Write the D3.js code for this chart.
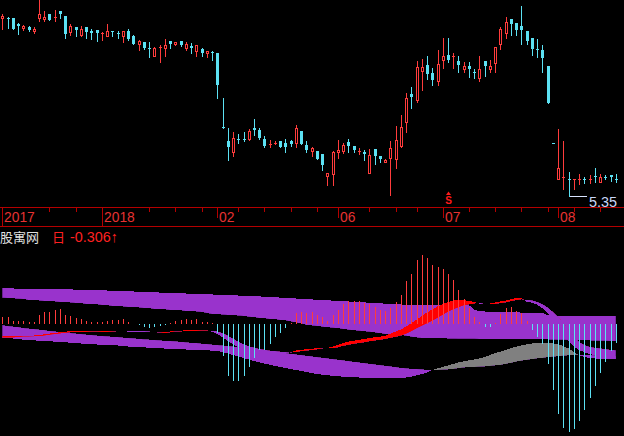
<!DOCTYPE html>
<html><head><meta charset="utf-8">
<script src="https://cdn.jsdelivr.net/npm/d3@7"></script>
<style>html,body{margin:0;padding:0;background:#000;overflow:hidden}svg{display:block}</style>
</head><body><svg id="c" width="624" height="436"></svg>
<script>
// ---------- price data (one entry per trading bar) ----------
const openP = [8.32,8.32,8.31,8.21,8.15,8.17,8.10,8.32,8.30,8.39,
8.31,8.43,8.35,8.09,8.16,8.03,8.16,8.10,8.12,8.05,
8.02,8.10,8.07,8.02,8.10,8.01,7.88,7.92,7.82,7.69,
7.81,7.82,7.93,7.88,7.93,7.82,7.85,7.76,7.80,7.73,
7.75,7.74,6.50,6.26,6.09,6.30,6.30,6.30,6.49,6.45,
6.30,6.20,6.22,6.27,6.23,6.27,6.24,6.43,6.20,6.10,
6.10,6.05,5.69,5.71,6.09,6.10,6.25,6.18,6.08,6.09,
5.74,6.13,6.02,5.92,5.98,5.97,6.18,6.59,7.05,6.95,
7.44,7.53,7.40,7.26,7.61,7.70,7.67,7.60,7.47,7.52,
7.42,7.32,7.60,7.46,7.56,7.88,8.07,8.30,8.24,8.18,
8.10,7.98,7.80,7.78,7.52,6.23,5.63,5.65,5.63,5.62,
5.62,5.64,5.61,5.69,5.59,5.67,5.70,5.64];
const highP = [8.38,8.33,8.31,8.23,8.20,8.18,8.16,8.65,8.43,8.39,
8.45,8.43,8.35,8.21,8.16,8.18,8.16,8.13,8.12,8.09,
8.22,8.10,8.10,8.10,8.13,8.03,7.95,7.92,7.91,7.84,
7.87,7.97,7.93,7.92,7.93,7.91,7.90,7.87,7.82,7.77,
7.77,7.74,6.99,6.49,6.41,6.38,6.41,6.46,6.63,6.48,
6.35,6.28,6.26,6.27,6.30,6.28,6.53,6.43,6.26,6.17,
6.10,6.05,5.73,6.10,6.28,6.24,6.30,6.18,6.15,6.12,
6.13,6.13,6.02,5.97,6.27,6.52,6.70,7.06,7.16,7.60,
7.64,7.68,7.48,7.78,7.98,7.98,7.74,7.68,7.58,7.58,
7.46,7.68,7.60,7.62,7.83,8.17,8.34,8.30,8.24,8.51,
8.10,7.98,7.97,7.87,7.52,6.23,6.47,6.26,5.75,5.64,
5.72,5.67,5.70,5.82,5.72,5.70,5.70,5.72];
const lowP = [8.13,8.15,8.13,8.05,8.12,8.10,8.07,8.26,8.26,8.28,
8.27,8.32,7.99,8.04,8.02,8.01,7.99,7.97,7.93,7.95,
8.01,8.02,7.99,7.91,7.95,7.88,7.78,7.80,7.66,7.69,
7.59,7.69,7.82,7.86,7.85,7.78,7.74,7.69,7.69,7.66,
7.62,6.99,6.49,5.95,6.02,6.24,6.27,6.28,6.37,6.30,
6.17,6.17,6.22,6.16,6.09,6.18,6.17,6.22,6.09,6.02,
5.97,5.78,5.53,5.53,5.98,6.07,6.09,6.08,6.05,5.95,
5.74,5.88,5.91,5.91,5.37,5.82,6.17,6.42,6.82,6.91,
7.11,7.30,7.20,7.20,7.48,7.59,7.49,7.41,7.41,7.34,
7.32,7.27,7.35,7.41,7.42,7.80,7.99,8.03,8.03,7.88,
7.88,7.70,7.67,7.42,6.90,6.23,5.63,5.47,5.35,5.47,
5.55,5.57,5.56,5.59,5.58,5.63,5.60,5.58];
const closeP = [8.35,8.30,8.13,8.19,8.18,8.12,8.14,8.39,8.34,8.28,
8.34,8.38,8.05,8.18,8.12,8.13,8.08,8.07,8.07,8.07,
8.10,8.08,8.05,8.10,7.96,7.89,7.94,7.82,7.80,7.82,
7.83,7.87,7.89,7.91,7.87,7.88,7.82,7.87,7.74,7.76,
7.73,7.20,6.49,6.17,6.32,6.28,6.28,6.43,6.45,6.31,
6.19,6.22,6.23,6.16,6.17,6.21,6.49,6.22,6.11,6.15,
5.97,5.87,5.73,6.09,6.12,6.20,6.18,6.11,6.10,6.05,
6.03,6.01,5.96,5.95,6.15,6.28,6.50,6.99,7.00,7.50,
7.50,7.38,7.28,7.55,7.68,7.62,7.68,7.53,7.52,7.47,
7.40,7.47,7.52,7.52,7.83,8.14,8.25,8.22,8.12,8.12,
7.94,7.80,7.78,7.65,6.90,6.23,5.81,5.67,5.62,5.63,
5.63,5.62,5.63,5.66,5.66,5.66,5.66,5.62];

// ---------- indicator data ----------
const histValues = [0.115,0.115,0.05,0.05,0.05,0.03,0.03,0.15,0.20,0.20,
0.23,0.25,0.15,0.13,0.10,0.08,0.05,0.03,0.03,0.03,
0.05,0.07,0.07,0.08,0.03,0.005,-0.01,-0.045,-0.06,-0.055,
-0.04,-0.01,0.015,0.05,0.065,0.08,0.065,0.08,0.03,0.03,
0.02,-0.15,-0.52,-0.85,-0.93,-0.93,-0.86,-0.71,-0.56,-0.42,
-0.42,-0.32,-0.22,-0.15,-0.07,0.02,0.18,0.20,0.18,0.20,
0.15,0.11,0.045,0.14,0.23,0.32,0.37,0.37,0.37,0.34,
0.32,0.28,0.23,0.22,0.27,0.36,0.48,0.71,0.82,1.05,
1.13,1.08,0.97,0.93,0.90,0.82,0.72,0.56,0.41,0.26,
0.12,0.04,-0.045,-0.045,0.02,0.16,0.26,0.28,0.22,0.18,
0.05,-0.10,-0.21,-0.33,-0.66,-1.09,-1.48,-1.70,-1.77,-1.72,
-1.59,-1.41,-1.21,-1.01,-0.80,-0.62,-0.44,-0.306];
const bandAUpper = [0.585,0.584,0.582,0.581,0.579,0.578,0.577,0.575,0.574,0.572,
0.571,0.569,0.568,0.566,0.565,0.563,0.561,0.559,0.556,0.553,
0.549,0.546,0.543,0.539,0.536,0.533,0.530,0.526,0.523,0.520,
0.516,0.513,0.510,0.507,0.503,0.500,0.497,0.493,0.490,0.487,
0.484,0.480,0.477,0.474,0.470,0.467,0.462,0.459,0.456,0.452,
0.447,0.443,0.438,0.433,0.428,0.423,0.418,0.413,0.408,0.403,
0.398,0.393,0.388,0.384,0.379,0.374,0.369,0.364,0.359,0.354,
0.349,0.344,0.339,0.334,0.329,0.324,0.320,0.316,0.313,0.311,
0.311,0.311,0.311,0.311,0.311,0.311,0.311,0.311,0.311,0.311,
0.230,0.213,0.205,0.200,0.200,0.197,0.195,0.193,0.190,0.188,
0.186,0.184,0.182,0.180,0.148,0.135,0.132,0.131,0.131,0.131,
0.131,0.131,0.131,0.131,0.131,0.131,0.131,0.131];
const bandALower = [0.431,0.428,0.420,0.415,0.410,0.393,0.390,0.385,0.377,0.375,
0.369,0.361,0.359,0.352,0.344,0.342,0.328,0.326,0.322,0.311,
0.309,0.295,0.293,0.287,0.279,0.277,0.272,0.262,0.260,0.246,
0.244,0.240,0.230,0.228,0.223,0.213,0.211,0.205,0.197,0.180,
0.164,0.159,0.154,0.148,0.146,0.138,0.131,0.120,0.110,0.098,
0.093,0.082,0.077,0.066,0.061,0.041,0.025,0.008,-0.016,-0.025,
-0.033,-0.044,-0.054,-0.062,-0.069,-0.082,-0.093,-0.103,-0.110,-0.120,
-0.128,-0.139,-0.151,-0.164,-0.170,-0.177,-0.184,-0.193,-0.208,-0.221,
-0.230,-0.233,-0.235,-0.236,-0.237,-0.238,-0.239,-0.240,-0.241,-0.242,
-0.243,-0.246,-0.249,-0.249,-0.249,-0.249,-0.249,-0.250,-0.250,-0.250,
-0.251,-0.251,-0.252,-0.252,-0.254,-0.256,-0.258,-0.260,-0.262,-0.264,
-0.266,-0.268,-0.270,-0.272,-0.274,-0.276,-0.278,-0.279];
const bandBSlow = [-0.016,-0.033,-0.041,-0.049,-0.066,-0.074,-0.082,-0.090,-0.098,-0.115,
-0.120,-0.131,-0.139,-0.148,-0.156,-0.164,-0.172,-0.180,-0.189,-0.197,
-0.202,-0.208,-0.213,-0.221,-0.230,-0.234,-0.243,-0.251,-0.254,-0.262,
-0.267,-0.274,-0.279,-0.284,-0.290,-0.298,-0.306,-0.311,-0.320,-0.328,
-0.336,-0.344,-0.352,-0.361,-0.369,-0.377,-0.385,-0.393,-0.405,-0.418,
-0.431,-0.443,-0.456,-0.467,-0.475,-0.487,-0.497,-0.508,-0.520,-0.530,
-0.541,-0.552,-0.562,-0.574,-0.585,-0.595,-0.607,-0.618,-0.628,-0.639,
-0.651,-0.661,-0.672,-0.684,-0.693,-0.705,-0.716,-0.726,-0.733,-0.738,
-0.743,-0.749,-0.754,-0.754,-0.751,-0.746,-0.738,-0.726,-0.715,-0.708,
-0.705,-0.702,-0.697,-0.689,-0.680,-0.672,-0.656,-0.639,-0.618,-0.603,
-0.590,-0.577,-0.566,-0.557,-0.546,-0.538,-0.528,-0.521,-0.515,-0.508,
-0.505,-0.505,-0.508,-0.513,-0.518,-0.525,-0.530,-0.533];
const bandBFast = [-0.225,-0.230,-0.238,-0.246,-0.257,-0.262,-0.267,-0.274,-0.279,-0.284,
-0.289,-0.295,-0.300,-0.307,-0.311,-0.320,-0.328,-0.333,-0.336,-0.341,
-0.344,-0.349,-0.352,-0.361,-0.369,-0.372,-0.377,-0.382,-0.389,-0.393,
-0.398,-0.403,-0.407,-0.410,-0.415,-0.418,-0.421,-0.423,-0.426,-0.431,
-0.438,-0.443,-0.459,-0.484,-0.508,-0.533,-0.557,-0.582,-0.607,-0.628,
-0.648,-0.667,-0.689,-0.705,-0.721,-0.738,-0.754,-0.770,-0.787,-0.803,
-0.820,-0.831,-0.841,-0.849,-0.857,-0.864,-0.869,-0.874,-0.877,-0.882,
-0.885,-0.889,-0.890,-0.890,-0.890,-0.889,-0.885,-0.877,-0.864,-0.844,
-0.820,-0.795,-0.754,-0.726,-0.705,-0.680,-0.656,-0.631,-0.611,-0.595,
-0.582,-0.562,-0.541,-0.508,-0.475,-0.454,-0.426,-0.398,-0.372,-0.352,
-0.333,-0.320,-0.311,-0.307,-0.307,-0.316,-0.336,-0.361,-0.402,-0.459,
-0.513,-0.541,-0.557,-0.566,-0.574,-0.574,-0.574,-0.574];
const ribbonFast = [-0.200,-0.200,-0.200,-0.200,-0.193,-0.192,-0.189,-0.180,-0.169,-0.157,
-0.148,-0.136,-0.126,-0.118,-0.115,-0.115,-0.115,-0.121,-0.123,-0.115,
-0.115,-0.115,-0.118,-0.118,-0.125,-0.123,-0.128,-0.131,-0.134,-0.136,
-0.136,-0.131,-0.123,-0.115,-0.111,-0.103,-0.102,-0.098,-0.098,-0.098,
-0.128,-0.164,-0.221,-0.279,-0.336,-0.377,-0.410,-0.434,-0.448,-0.459,
-0.467,-0.472,-0.475,-0.475,-0.475,-0.462,-0.434,-0.423,-0.415,-0.405,
-0.397,-0.397,-0.393,-0.369,-0.344,-0.311,-0.290,-0.275,-0.259,-0.246,
-0.230,-0.218,-0.208,-0.192,-0.159,-0.123,-0.090,-0.041,0.016,0.074,
0.131,0.189,0.238,0.287,0.328,0.361,0.382,0.397,0.393,0.377,
0.361,0.331,0.331,0.336,0.352,0.369,0.385,0.405,0.426,0.431,
0.366,0.349,0.316,0.257,0.175,0.082,-0.016,-0.152,-0.274,-0.372,
-0.426,-0.464,-0.492,-0.513,-0.525,-0.541,-0.557,-0.574];
const ribbonSlow = [-0.226,-0.226,-0.226,-0.216,-0.210,-0.208,-0.205,-0.203,-0.192,-0.180,
-0.170,-0.159,-0.148,-0.139,-0.134,-0.133,-0.131,-0.125,-0.125,-0.131,
-0.131,-0.128,-0.121,-0.120,-0.111,-0.110,-0.111,-0.115,-0.118,-0.138,
-0.141,-0.152,-0.139,-0.123,-0.125,-0.118,-0.115,-0.113,-0.111,-0.110,
-0.107,-0.120,-0.148,-0.189,-0.238,-0.287,-0.328,-0.361,-0.385,-0.405,
-0.421,-0.434,-0.443,-0.451,-0.459,-0.469,-0.462,-0.448,-0.439,-0.430,
-0.420,-0.403,-0.398,-0.398,-0.385,-0.361,-0.344,-0.328,-0.315,-0.303,
-0.287,-0.274,-0.262,-0.251,-0.230,-0.213,-0.193,-0.164,-0.123,-0.074,
-0.033,0.008,0.049,0.098,0.148,0.197,0.238,0.270,0.303,0.320,
0.333,0.348,0.332,0.320,0.328,0.339,0.352,0.372,0.389,0.402,
0.398,0.389,0.366,0.328,0.274,0.202,0.120,0.021,-0.087,-0.197,
-0.290,-0.344,-0.372,-0.389,-0.398,-0.410,-0.421,-0.431];

// ---------- axis / labels ----------
const tickLabels = ["2017","2018","02","06","07","08"];
const tickIndex = [0,19,41,64,84,106];
const minorTickIndex = [9,14,28,33,38,45,50,55,60,70,75,79,89,94,99,104,109,114];
const signalIndex = [85];
const signalText = ["S"];
const titleName = "股寓网", titlePeriod = "日", titleValue = "-0.306↑";

// ---------- drawing ----------
const n = openP.length;
const svg = d3.select("#c");
svg.append("rect").attr("width",624).attr("height",436).attr("fill","#000");
const defs = svg.append("defs");
defs.append("clipPath").attr("id","topClip").append("rect").attr("x",0).attr("y",0).attr("width",624).attr("height",207);
defs.append("clipPath").attr("id","botClip").append("rect").attr("x",0).attr("y",227).attr("width",624).attr("height",209);

const x = d3.scaleLinear().domain([0, n-1]).range([2.3, 615.8]);
const yP = d3.scaleLinear().domain([5, 9]).range([217, -23]);
const yI = d3.scaleLinear().domain([0, 1]).range([324, 263]);
const px = i => Math.round(x(i));

const RED = "#ff3c3c", CYAN = "#5ce1f3", PURPLE = "#9933cc", GRAY = "#808080";

// candles
const topG = svg.append("g").attr("clip-path","url(#topClip)").attr("shape-rendering","crispEdges");
const isUp = i => closeP[i] > openP[i] || (closeP[i] === openP[i] && i > 0 && closeP[i] >= closeP[i-1]);
for (let i = 0; i < n; i++) {
  const X = px(i), cx = X + 0.5;
  const yH = Math.round(yP(highP[i])), yL = Math.round(yP(lowP[i]));
  const yT = Math.round(yP(Math.max(openP[i], closeP[i])));
  const yB = Math.round(yP(Math.min(openP[i], closeP[i])));
  const col = isUp(i) ? RED : CYAN;
  if (isUp(i) && yB - yT >= 2) {
    if (yT > yH) topG.append("line").attr("x1",cx).attr("x2",cx).attr("y1",yH).attr("y2",yT).attr("stroke",col);
    if (yL > yB) topG.append("line").attr("x1",cx).attr("x2",cx).attr("y1",yB+1).attr("y2",yL+1).attr("stroke",col);
    topG.append("rect").attr("x",X-0.5).attr("y",yT+0.5).attr("width",2).attr("height",yB-yT)
      .attr("fill","#000").attr("stroke",col);
  } else {
    topG.append("line").attr("x1",cx).attr("x2",cx).attr("y1",yH).attr("y2",yL+1).attr("stroke",col);
    topG.append("rect").attr("x",X-1).attr("y",yT).attr("width",3).attr("height",Math.max(1,yB-yT)).attr("fill",col);
  }
}
// lowest-price marker
const iMin = d3.minIndex(lowP);
const yMin = Math.round(yP(lowP[iMin])) + 0.5;
topG.append("line").attr("x1",px(iMin)+0.5).attr("x2",px(iMin)+18).attr("y1",yMin).attr("y2",yMin).attr("stroke","#d8e4ff");
svg.append("text").attr("x",px(iMin)+20).attr("y",yMin+10).text(lowP[iMin].toFixed(2))
  .attr("fill","#c8d8f8").attr("font-family","Liberation Sans, Arial, sans-serif").attr("font-size",15)
  .attr("textLength",28).attr("lengthAdjust","spacingAndGlyphs");
// signal marker
signalIndex.forEach((si,k) => {
  const cx = px(si)+0.5;
  svg.append("path").attr("d",`M${cx-2.5},195 L${cx},191.5 L${cx+2.5},195 Z`).attr("fill","#ff1a1a");
  svg.append("text").attr("x",cx).attr("y",203.5).attr("text-anchor","middle").text(signalText[k])
    .attr("fill","#ff1a1a").attr("font-family","Liberation Sans, Arial, sans-serif").attr("font-weight","bold").attr("font-size",10);
});

// date axis
const ax = svg.append("g").attr("shape-rendering","crispEdges");
const AXC = "#b40000";
ax.append("line").attr("x1",0).attr("x2",624).attr("y1",207.5).attr("y2",207.5).attr("stroke",AXC);
ax.append("line").attr("x1",0).attr("x2",624).attr("y1",226.5).attr("y2",226.5).attr("stroke",AXC);
minorTickIndex.forEach(i => ax.append("line").attr("x1",px(i)+0.5).attr("x2",px(i)+0.5).attr("y1",208).attr("y2",212).attr("stroke",AXC));
tickIndex.forEach((i,k) => {
  const full = tickLabels[k].length === 4;
  ax.append("line").attr("x1",px(i)+0.5).attr("x2",px(i)+0.5).attr("y1",208).attr("y2",full?226:218).attr("stroke",AXC);
  svg.append("text").attr("x",px(i)+2).attr("y",221.5).text(tickLabels[k])
    .attr("fill","#e63232").attr("font-family","Liberation Sans, Arial, sans-serif").attr("font-size",15)
    .attr("textLength",tickLabels[k].length*7.7).attr("lengthAdjust","spacingAndGlyphs");
});

// title of indicator panel
svg.append("text").attr("x",0).attr("y",242).text(titleName).attr("fill","#e0e0e0")
  .attr("font-family","Noto Sans CJK SC, sans-serif").attr("font-size",13);
svg.append("text").attr("x",52).attr("y",242).text(titlePeriod).attr("fill","#ff2020")
  .attr("font-family","Noto Sans CJK SC, sans-serif").attr("font-size",13);
svg.append("text").attr("x",70).attr("y",242).text(titleValue).attr("fill","#ff2020")
  .attr("font-family","Liberation Sans, Arial, sans-serif").attr("font-size",15)
  .attr("textLength",48).attr("lengthAdjust","spacingAndGlyphs");

// indicator panel
const bot = svg.append("g").attr("clip-path","url(#botClip)");
const idx = d3.range(n);
function diffBand(f, s, colPos, colNeg, id) {
  const g = bot.append("g").attr("shape-rendering","crispEdges");
  const area = d3.area().x(i => x(i)).y0(i => yI(f[i])).y1(i => yI(s[i]));
  const above = d3.area().x(i => x(i)).y0(227).y1(i => yI(s[i]));
  const below = d3.area().x(i => x(i)).y0(436).y1(i => yI(s[i]));
  defs.append("clipPath").attr("id",id+"a").append("path").attr("d",above(idx));
  defs.append("clipPath").attr("id",id+"b").append("path").attr("d",below(idx));
  g.append("path").attr("d",area(idx)).attr("fill",colPos).attr("clip-path",`url(#${id}a)`);
  g.append("path").attr("d",area(idx)).attr("fill",colNeg).attr("clip-path",`url(#${id}b)`);
}
diffBand(bandAUpper, bandALower, PURPLE, PURPLE, "bA");
diffBand(bandBFast, bandBSlow, GRAY, PURPLE, "bB");
diffBand(ribbonFast, ribbonSlow, "#ff0000", PURPLE, "rC");

const hg = bot.append("g").attr("shape-rendering","crispEdges");
histValues.forEach((v,i) => {
  hg.append("line").attr("x1",px(i)+0.5).attr("x2",px(i)+0.5)
    .attr("y1",Math.round(yI(0))).attr("y2",Math.round(yI(v)))
    .attr("stroke", v >= 0 ? RED : CYAN);
});
</script>
</body></html>
